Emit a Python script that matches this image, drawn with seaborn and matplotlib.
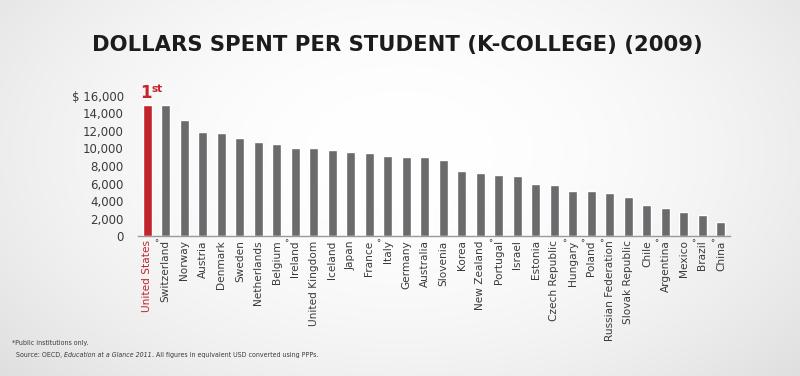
import numpy as np
import pandas as pd
import matplotlib
matplotlib.use('Agg')
import matplotlib.pyplot as plt
import seaborn as sns

# Data (USD per student, 2009)
countries = ['United States', 'Switzerland', 'Norway', 'Austria', 'Denmark', 'Sweden',
             'Netherlands', 'Belgium', 'Ireland', 'United Kingdom', 'Iceland', 'Japan',
             'France', 'Italy', 'Germany', 'Australia', 'Slovenia', 'Korea', 'New Zealand',
             'Portugal', 'Israel', 'Estonia', 'Czech Republic', 'Hungary', 'Poland',
             'Russian Federation', 'Slovak Republic', 'Chile', 'Argentina', 'Mexico',
             'Brazil', 'China']
spending = [14950, 14950, 13250, 11850, 11750, 11150, 10700, 10550, 10050, 10000, 9800,
            9600, 9520, 9100, 9070, 8990, 8650, 7400, 7170, 7020, 6900, 5990, 5880, 5140,
            5140, 4880, 4460, 3510, 3240, 2790, 2400, 1600]
public_only = ['Switzerland', 'Ireland', 'Italy', 'Portugal', 'Hungary', 'Poland',
               'Russian Federation', 'Argentina', 'Brazil', 'China']
yticks = [0, 2000, 4000, 6000, 8000, 10000, 12000, 14000, 16000]
ytick_labels = ['0', '2,000', '4,000', '6,000', '8,000', '10,000', '12,000', '14,000', '$ 16,000']

RED = '#c3242c'
GREY = '#6b6b6d'
TEXT = '#3a3a3a'

df = pd.DataFrame({'country': countries, 'spending': spending})
colors = {c: (RED if c == 'United States' else GREY) for c in countries}

sns.set_style('white')
plt.rcParams['font.family'] = ['DejaVu Sans']

fig = plt.figure(figsize=(8, 3.76), dpi=100)

# soft radial background
bg = fig.add_axes([0, 0, 1, 1], zorder=-10)
yy, xx = np.mgrid[0:376, 0:800]
r = np.sqrt(((xx - 400) / 520.0) ** 2 + ((yy - 150) / 330.0) ** 2)
shade = 1.0 - 0.12 * np.clip(r, 0, 1.3) ** 2
bg.imshow(np.dstack([shade, shade, shade]).clip(0, 1), aspect='auto', extent=[0, 1, 0, 1])
bg.axis('off')

ax = fig.add_axes([0.172, 0.372, 0.741, 0.373])
ax.patch.set_alpha(0)
sns.barplot(data=df, x='country', y='spending', hue='country', palette=colors,
            legend=False, width=0.49, saturation=1, ax=ax)

ax.set_xlim(-0.52, 31.51)
ax.set_ylim(0, 16000)
ax.set_yticks(yticks)
ax.set_yticklabels(ytick_labels, fontsize=8.5, color=TEXT)
ax.tick_params(axis='y', length=0, pad=10)
ax.tick_params(axis='x', length=0, pad=3)
ax.set_xticks(range(len(countries)))
ax.set_xticklabels(countries, rotation=90, fontsize=7.6, color=TEXT, va='top')
ax.get_xticklabels()[0].set_color(RED)
ax.set_xlabel('')
ax.set_ylabel('')
for s in ['top', 'right', 'left']:
    ax.spines[s].set_visible(False)
ax.spines['bottom'].set_color('#9a9a9a')
ax.spines['bottom'].set_linewidth(1.0)

# degree marks for public institutions only
for i, c in enumerate(countries):
    if c in public_only:
        ax.annotate('°', xy=(i, 0), xytext=(-6.5, -2), textcoords='offset points',
                    ha='center', va='top', fontsize=6, color=TEXT, annotation_clip=False)

# "1st" above the US bar
ax.annotate('1', xy=(0, spending[0]), xytext=(-1, 2), textcoords='offset points',
            ha='center', va='bottom', fontsize=12, fontweight='bold', color=RED,
            annotation_clip=False)
ax.annotate('st', xy=(0, spending[0]), xytext=(3, 8), textcoords='offset points',
            ha='left', va='bottom', fontsize=7.5, fontweight='bold', color=RED,
            annotation_clip=False)

fig.text(0.497, 0.88, 'DOLLARS SPENT PER STUDENT (K-COLLEGE) (2009)', ha='center',
         va='center', fontsize=15.2, fontweight='heavy', color='#1c1c1c')

fs = 5.0
fig.text(0.015, 0.087, '*Public institutions only.', fontsize=fs, color=TEXT,
         stretch='condensed', va='center')
t1 = fig.text(0.02, 0.055, 'Source: OECD, ', fontsize=fs, color=TEXT,
              stretch='condensed', va='center')
t2 = ax.annotate('Education at a Glance 2011', xycoords=t1, xy=(1, 0), va='bottom',
                 fontsize=fs, color=TEXT, stretch='condensed', style='italic')
ax.annotate('. All figures in equivalent USD converted using PPPs.', xycoords=t2,
            xy=(1, 0), va='bottom', fontsize=fs, color=TEXT, stretch='condensed')

fig.savefig('out.png', dpi=100)
